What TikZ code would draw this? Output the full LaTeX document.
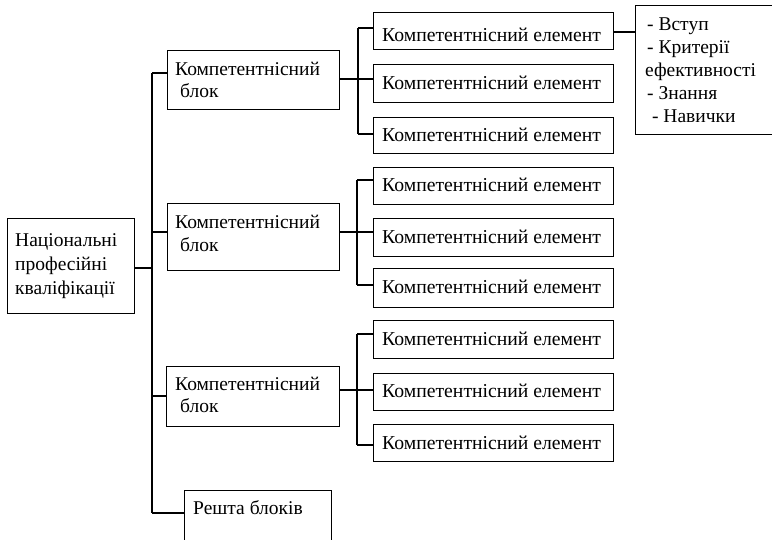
\documentclass[tikz,border=0pt]{standalone}
\usepackage{fontspec}
\setmainfont{Liberation Serif}
\begin{document}
\begin{tikzpicture}[x=1pt,y=-1pt,
  box/.style={draw=black,line width=1.3pt,rectangle,inner sep=0pt,anchor=north west},
  conn/.style={draw=black,line width=2pt},
  trunk/.style={draw=black,line width=1.5pt},
  big/.style={inner sep=0pt,anchor=base west,font=\fontsize{19.5}{23}\selectfont},
  small/.style={inner sep=0pt,anchor=base west,font=\fontsize{19.7}{23}\selectfont}]
\useasboundingbox (0,0) rectangle (772,540);
% root
\node[box,minimum width=127pt,minimum height=95pt] (root) at (7,218) {};
\node[big] (rt1) at (15,247) {Національні};
\node[big] (rt2) at (15,271) {професійні};
\node[big] (rt3) at (15,295) {кваліфікації};
% blocks
\node[box,minimum width=172pt,minimum height=59pt] (b1) at (167,50) {};
\node[big] (b1t1) at (175,76) {Компетентнісний};
\node[big] (b1t2) at (175,98) {\ блок};
\node[box,minimum width=172pt,minimum height=67pt] (b2) at (167,203) {};
\node[big] (b2t1) at (175,229) {Компетентнісний};
\node[big] (b2t2) at (175,252) {\ блок};
\node[box,minimum width=173pt,minimum height=60pt] (b3) at (166,366) {};
\node[big] (b3t1) at (175,391) {Компетентнісний};
\node[big] (b3t2) at (175,413) {\ блок};
\node[box,minimum width=147pt,minimum height=55pt] (rest) at (184,490) {};
\node[big] (restt) at (193,514) {Решта блоків};
% elements
\foreach \i/\t/\h/\bl in {1/12/37/42,2/64/38/89.5,3/117/36/141.5,4/167/37/192,5/218/38/243.5,6/268/39/294,7/320/38/345.5,8/373/37/398,9/424/37/449}{
  \node[box,minimum width=240pt,minimum height=\h pt] (e\i) at (373,\t) {};
  \node[small] (e\i t) at (382,\bl) {Компетентнісний елемент};
}
% details
\node[box,minimum width=140pt,minimum height=129pt] (det) at (635,5) {};
\node[big] (d1) at (647,31) {- Вступ};
\node[big] (d2) at (647,54) {- Критерії};
\node[big] (d3) at (645,77) {ефективності};
\node[big] (d4) at (647,100) {- Знання};
\node[big] (d5) at (647,123) {\ - Навички};
% trunk
\coordinate (ttop) at (152,73);
\coordinate (tbot) at (152,513);
\coordinate (troot) at (152,268);
\coordinate (tb2) at (152,232);
\coordinate (tb3) at (152,396);
\draw[trunk] (ttop) -- (tbot);
\draw[conn] (root.east |- troot) -- (troot);
\draw[conn] (ttop) -- (b1.west |- ttop);
\draw[conn] (tb2) -- (b2.west |- tb2);
\draw[conn] (tb3) -- (b3.west |- tb3);
\draw[conn] (tbot) -- (rest.west |- tbot);
% element trunks
\coordinate (g1a) at (358,28);
\coordinate (g1m) at (358,79);
\coordinate (g1b) at (358,134);
\coordinate (g2a) at (357,180);
\coordinate (g2m) at (357,232);
\coordinate (g2b) at (357,285);
\coordinate (g3a) at (357,334);
\coordinate (g3m) at (357,390);
\coordinate (g3b) at (357,445);
\draw[trunk] (g1a) -- (g1b);
\draw[trunk] (g2a) -- (g2b);
\draw[trunk] (g3a) -- (g3b);
\draw[conn] (b1.east |- g1m) -- (e2.west |- g1m);
\draw[conn] (b2.east |- g2m) -- (e5.west |- g2m);
\draw[conn] (b3.east |- g3m) -- (e8.west |- g3m);
\draw[conn] (g1a) -- (e1.west |- g1a);
\draw[conn] (g1b) -- (e3.west |- g1b);
\draw[conn] (g2a) -- (e4.west |- g2a);
\draw[conn] (g2b) -- (e6.west |- g2b);
\draw[conn] (g3a) -- (e7.west |- g3a);
\draw[conn] (g3b) -- (e9.west |- g3b);
\coordinate (dc) at (620,32);
\draw[conn] (e1.east |- dc) -- (det.west |- dc);
\end{tikzpicture}
\end{document}
